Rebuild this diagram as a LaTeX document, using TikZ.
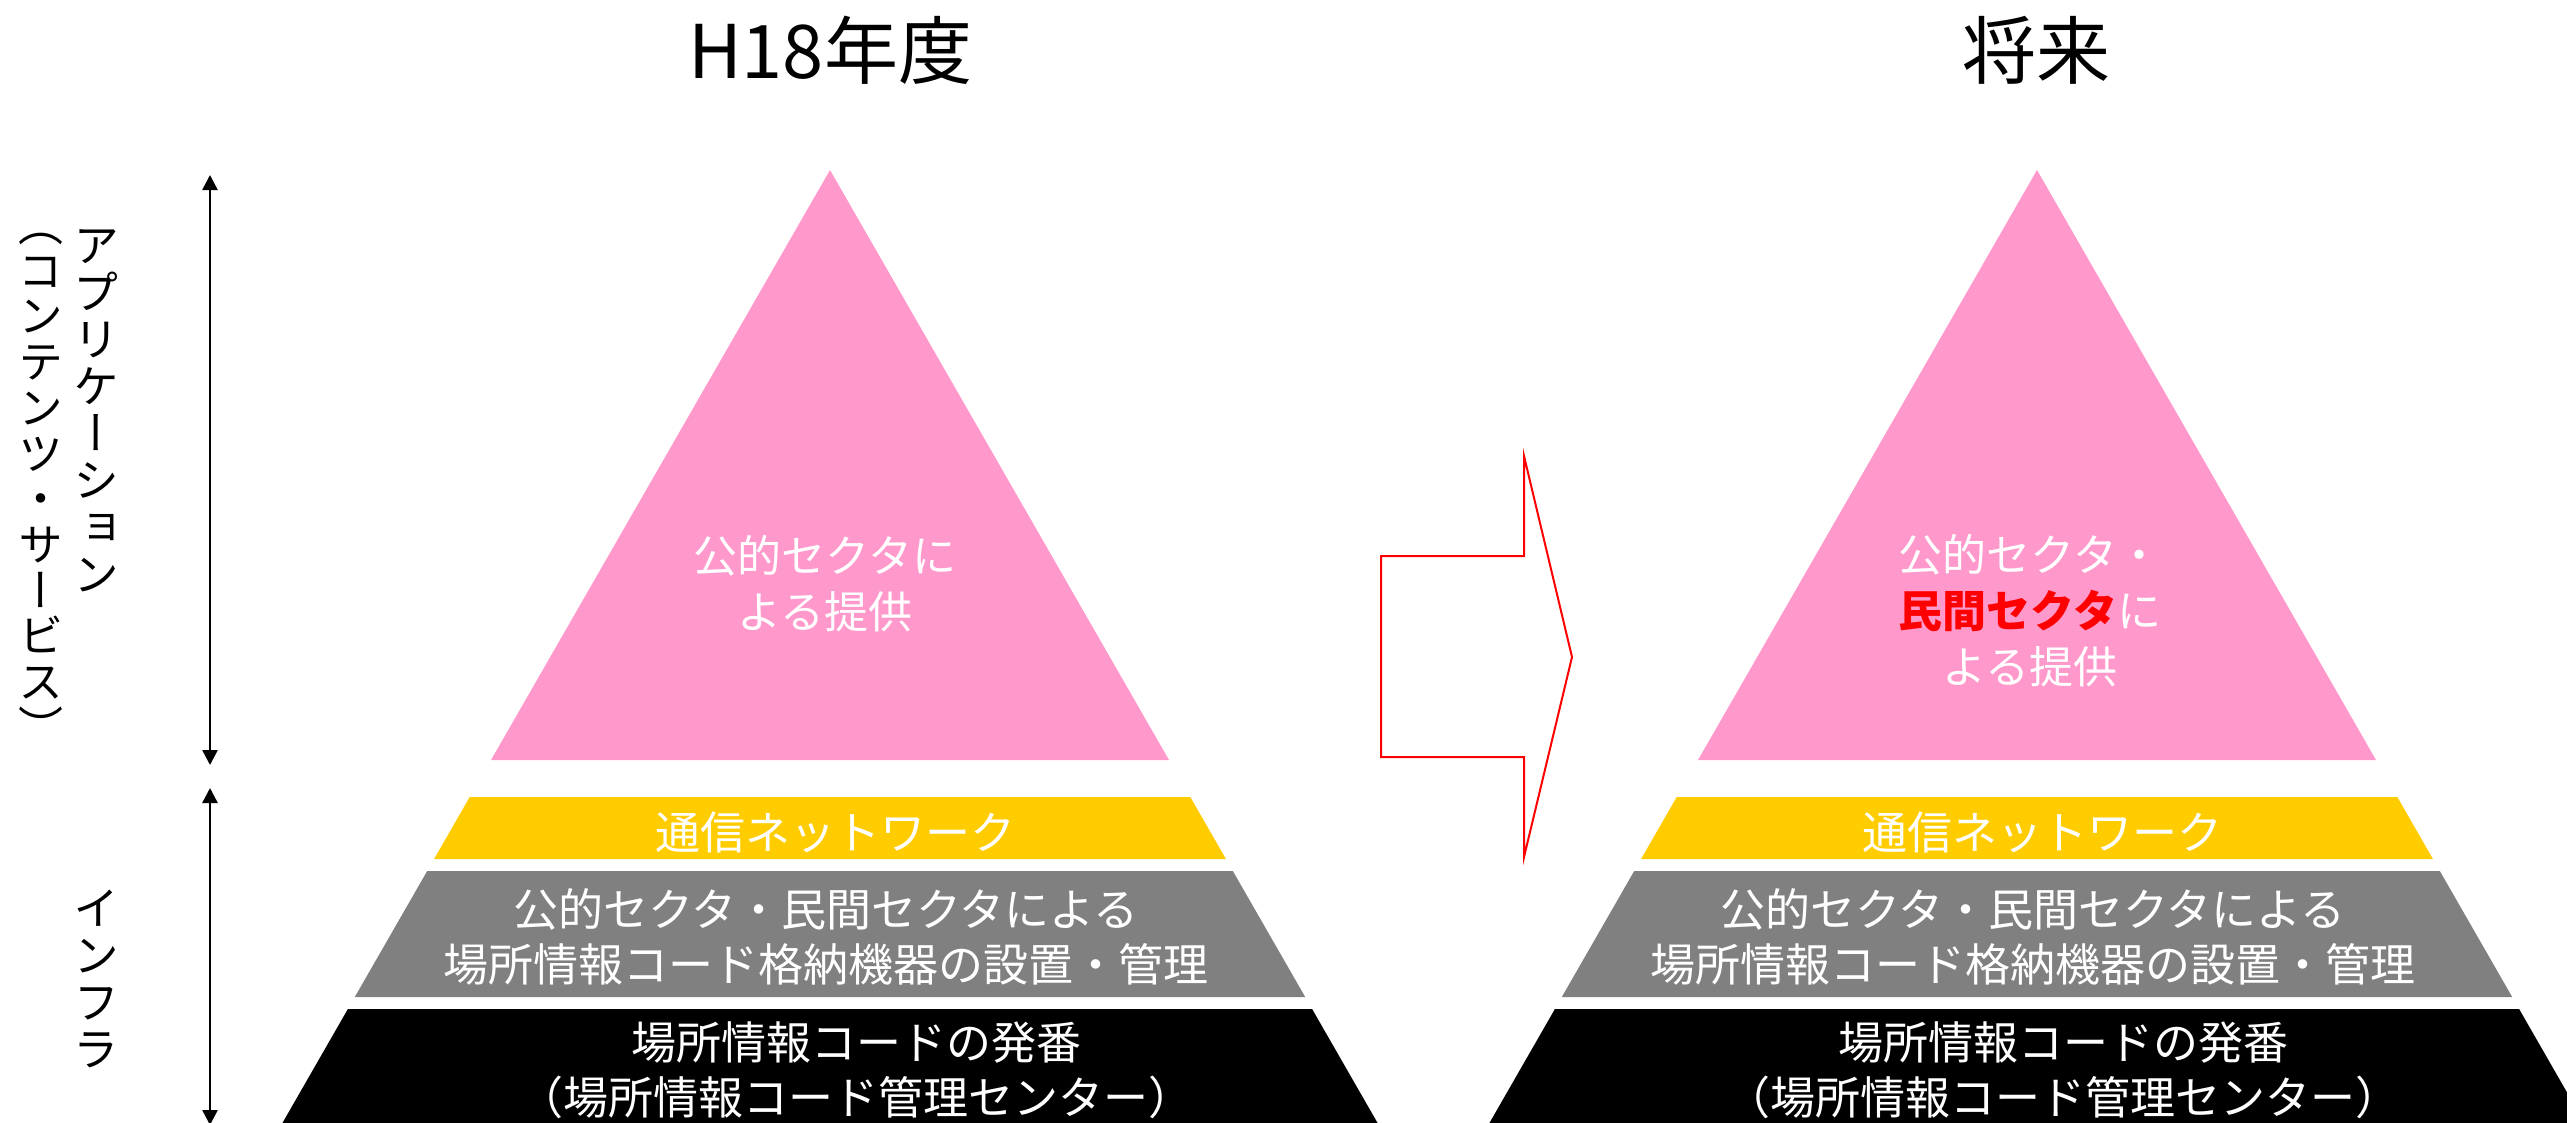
\documentclass[tikz,border=0pt]{standalone}
\usepackage{fontspec}
\setmainfont{Noto Sans CJK JP}
\newfontfamily\vjp[RawFeature=+vert]{Noto Sans CJK JP}
\usetikzlibrary{arrows.meta}
\definecolor{pyrpink}{RGB}{255,153,204}
\definecolor{pyryellow}{RGB}{255,204,0}
\definecolor{pyrgray}{RGB}{128,128,128}
\begin{document}
\begin{tikzpicture}[x=1pt,y=-1pt,
  titletext/.style={font=\fontsize{74}{80}\selectfont, anchor=base, inner sep=0pt},
  wtext/.style={text=white, align=center, inner sep=0pt, font=\fontsize{45}{55}\selectfont},
  ptext/.style={text=white, align=center, inner sep=0pt, font=\fontsize{44}{56}\selectfont},
  vtext/.style={font=\vjp\fontsize{46}{47}\selectfont, align=center, inner sep=0pt, anchor=north},
  vtextb/.style={font=\vjp\fontsize{45}{45.7}\selectfont, align=center, inner sep=0pt, anchor=north},
  dimarrow/.style={line width=2.5pt, {Triangle[width=15pt,length=15pt]}-{Triangle[width=15pt,length=15pt]}},
  bigarrow/.style={draw=red, line width=2pt, line join=miter}
]
\useasboundingbox (0,0) rectangle (2567,1122);
\fill[white] (0,0) rectangle (2567,1122);

% pyramids
\foreach \sx in {0,1207}{
  \begin{scope}[xshift=\sx pt]
    \fill[pyrpink] (830,170) -- (1169,760) -- (491,760) -- cycle;
    \fill[pyryellow] (469.7,797) -- (1190.3,797) -- (1225.9,859) -- (434.1,859) -- cycle;
    \fill[pyrgray] (427.2,871) -- (1232.8,871) -- (1305.2,997) -- (354.8,997) -- cycle;
    \fill[black] (347.9,1009) -- (1312.1,1009) -- (1381.6,1130) -- (278.4,1130) -- cycle;
  \end{scope}
}

% titles
\node[titletext] (tL) at (830,78) {H18年度};
\node[titletext] (tR) at (2036,78) {将来};

% left pyramid texts
\node[ptext] (pinkL) at (825,584) {公的セクタに\\よる提供};
\node[wtext] (yelL) at (835,832) {通信ネットワーク};
\node[wtext] (grayL) at (826,936.5) {公的セクタ・民間セクタによる\\場所情報コード格納機器の設置・管理};
\node[wtext] (blkL) at (856,1070) {場所情報コードの発番\\（場所情報コード管理センター）};

% right pyramid texts
\node[ptext] (pinkR) at (2030,611) {公的セクタ・\\{\color{red}\bfseries 民間セクタ}に\\よる提供};
\node[wtext] (yelR) at (2042,832) {通信ネットワーク};
\node[wtext] (grayR) at (2033,936.5) {公的セクタ・民間セクタによる\\場所情報コード格納機器の設置・管理};
\node[wtext] (blkR) at (2063,1070) {場所情報コードの発番\\（場所情報コード管理センター）};

% vertical labels
\node[vtext] (appl) at (96,229) {ア\\プ\\リ\\ケ\\ー\\シ\\ョ\\ン};
\node[vtextb] (cont) at (41,233) {（\\コ\\ン\\テ\\ン\\ツ\\・\\サ\\ー\\ビ\\ス\\）};
\node[vtext] (infra) at (96,890) {イ\\ン\\フ\\ラ};

% dimension arrows
\coordinate (a1) at (210,175);
\coordinate (a2) at (210,765);
\coordinate (b1) at (210,788);
\coordinate (b2) at (210,1125);
\draw[dimarrow] (a1) -- (a2);
\draw[dimarrow] (b1) -- (b2);

% big red arrow
\draw[bigarrow] (1381,556) -- (1524,556) -- (1524,456) -- (1572,657) -- (1524,857) -- (1524,757) -- (1381,757) -- cycle;
\end{tikzpicture}
\end{document}
